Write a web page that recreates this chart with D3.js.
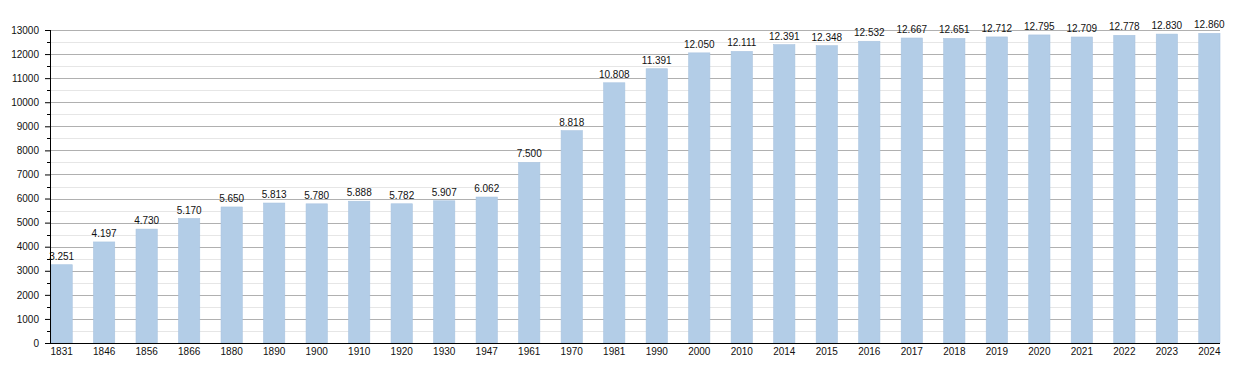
<!DOCTYPE html>
<html>
<head>
<meta charset="utf-8">
<script src="https://cdn.jsdelivr.net/npm/d3@7"></script>
<style>
  body { margin: 0; background: #fff; }
  text { font-family: "Liberation Sans", Arial, sans-serif; font-size: 10px; fill: #111; }
</style>
</head>
<body>
<svg id="chart" width="1250" height="373"></svg>
<script>
// Years and population values
const years = ['1831', '1846', '1856', '1866', '1880', '1890', '1900', '1910', '1920', '1930',
  '1947', '1961', '1970', '1981', '1990', '2000', '2010', '2014', '2015', '2016',
  '2017', '2018', '2019', '2020', '2021', '2022', '2023', '2024'];
const population = [3251, 4197, 4730, 5170, 5650, 5813, 5780, 5888, 5782, 5907,
  6062, 7500, 8818, 10808, 11391, 12050, 12111, 12391, 12348, 12532,
  12667, 12651, 12712, 12795, 12709, 12778, 12830, 12860];
const majorTicks = d3.range(0, 13001, 1000);
const minorTicks = d3.range(500, 13000, 1000);

const margin = {top: 30, right: 30, bottom: 30, left: 50};
const svg = d3.select('#chart');
const width = +svg.attr('width') - margin.left - margin.right;
const height = +svg.attr('height') - margin.top - margin.bottom;

const g = svg.append('g')
  .attr('transform', `translate(${margin.left},${margin.top})`);

const x = d3.scaleBand()
  .domain(years)
  .range([1, width])
  .paddingInner(0.5)
  .paddingOuter(0);

const y = d3.scaleLinear()
  .domain([0, 13000])
  .range([height, 0]);

// thousands separated with a dot
const fmt = (v) => d3.format(',')(v).replace(/,/g, '.');

// Gridlines
g.selectAll('.minor')
  .data(minorTicks)
  .enter().append('line')
    .attr('x1', 0).attr('x2', width)
    .attr('y1', (d) => Math.round(y(d)) + .5)
    .attr('y2', (d) => Math.round(y(d)) + .5)
    .attr('stroke', '#e6e6e6');

g.selectAll('.major')
  .data(majorTicks.slice(1))
  .enter().append('line')
    .attr('x1', 0).attr('x2', width)
    .attr('y1', (d) => Math.round(y(d)) + .5)
    .attr('y2', (d) => Math.round(y(d)) + .5)
    .attr('stroke', '#b0b0b0');

// Bars
g.selectAll('.bar')
  .data(population)
  .enter().append('rect')
    .attr('class', 'bar')
    .attr('x', (d, i) => x(years[i]))
    .attr('y', (d) => y(d))
    .attr('width', x.bandwidth())
    .attr('height', (d) => height - y(d))
    .attr('fill', '#b3cde7')
    .attr('stroke', '#a9c4e0')
    .attr('stroke-width', 0.6);

// Value labels
g.selectAll('.value')
  .data(population)
  .enter().append('text')
    .attr('x', (d, i) => x(years[i]) + x.bandwidth() / 2)
    .attr('y', (d) => y(d) - 5)
    .attr('text-anchor', 'middle')
    .text(fmt);

// Y axis
const yAxis = d3.axisLeft(y)
  .tickValues(majorTicks)
  .tickSize(5)
  .tickPadding(6)
  .tickFormat(d3.format('d'));

g.append('g')
  .call(yAxis)
  .call((a) => a.select('.domain').remove())
  .call((a) => a.selectAll('text').style('font-size', '10px').attr('fill', '#111'));

g.selectAll('.minor-tick')
  .data(minorTicks)
  .enter().append('line')
    .attr('x1', -3).attr('x2', 0)
    .attr('y1', (d) => Math.round(y(d)) + .5)
    .attr('y2', (d) => Math.round(y(d)) + .5)
    .attr('stroke', '#000');

g.append('line')
  .attr('x1', .5).attr('x2', .5)
  .attr('y1', 0).attr('y2', height)
  .attr('stroke', '#000');

// X axis
const xAxis = d3.axisBottom(x)
  .tickSize(0)
  .tickPadding(5);

g.append('g')
  .attr('transform', `translate(0,${height})`)
  .call(xAxis)
  .call((a) => a.select('.domain').remove())
  .call((a) => a.selectAll('text').style('font-size', '10px').attr('fill', '#111'));

g.append('line')
  .attr('x1', 0).attr('x2', width)
  .attr('y1', height + .5).attr('y2', height + .5)
  .attr('stroke', '#000');
</script>
</body>
</html>
